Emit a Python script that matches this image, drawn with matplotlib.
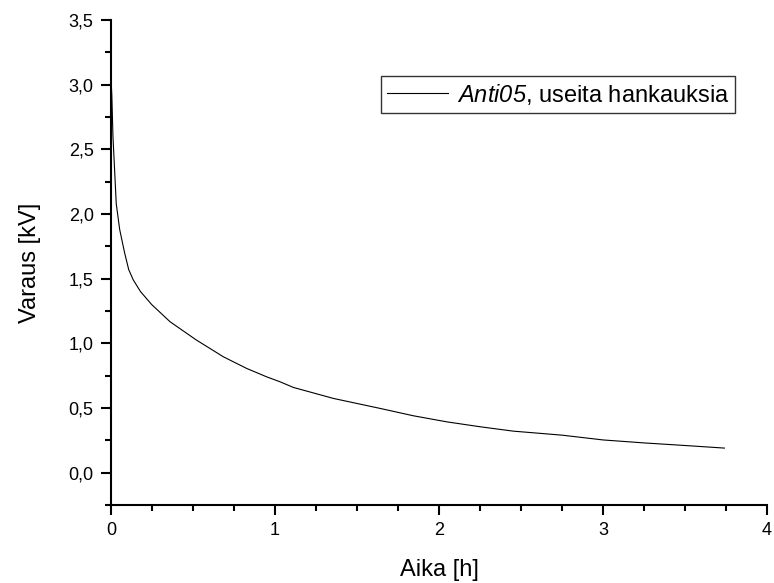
import matplotlib
matplotlib.use("Agg")
import matplotlib.pyplot as plt
from matplotlib.ticker import MultipleLocator, FuncFormatter

plt.rcParams['font.family'] = ['Liberation Sans', 'DejaVu Sans']
plt.rcParams['mathtext.fontset'] = 'custom'
plt.rcParams['mathtext.rm'] = 'Liberation Sans:italic'
plt.rcParams['mathtext.it'] = 'Liberation Sans:italic'
plt.rcParams['mathtext.bf'] = 'Liberation Sans:bold'

time_h = [0.0, 0.005, 0.012, 0.022, 0.032, 0.053, 0.083, 0.108, 0.136, 0.18,
          0.248, 0.36, 0.52, 0.685, 0.827, 0.949, 1.03, 1.112, 1.356, 1.64,
          1.843, 2.047, 2.25, 2.453, 2.75, 3.0, 3.25, 3.5, 3.74]
charge_kv = [3.05, 2.92, 2.6, 2.34, 2.08, 1.88, 1.70, 1.57, 1.49, 1.40,
             1.30, 1.167, 1.026, 0.896, 0.806, 0.741, 0.703, 0.659, 0.574, 0.497,
             0.44, 0.393, 0.355, 0.321, 0.29, 0.253, 0.23, 0.21, 0.19]
series_label = r"$\mathrm{Anti05}$, useita hankauksia"

fig = plt.figure(figsize=(7.74, 5.83), dpi=100)
ax = fig.add_axes([0.1434, 0.1338, 0.991 - 0.1434, 0.9657 - 0.1338])

ax.plot(time_h, charge_kv, color='black', linewidth=0.8,
        label=series_label)

ax.set_xlim(0, 4)
ax.set_ylim(-0.25, 3.5)
ax.xaxis.set_major_locator(MultipleLocator(1))
ax.xaxis.set_minor_locator(MultipleLocator(0.25))
ax.yaxis.set_major_locator(MultipleLocator(0.5))
ax.yaxis.set_minor_locator(MultipleLocator(0.25))
ax.yaxis.set_major_formatter(FuncFormatter(lambda v, p: f"{v:.1f}".replace('.', ',')))
ax.xaxis.set_major_formatter(FuncFormatter(lambda v, p: f"{int(round(v))}"))

for s in ['top', 'right']:
    ax.spines[s].set_visible(False)
for s in ['left', 'bottom']:
    ax.spines[s].set_linewidth(1.5)

ax.tick_params(which='major', direction='out', length=7.5, width=1.5,
               labelsize=13, pad=5)
ax.tick_params(which='minor', direction='out', length=4.5, width=1.5)

ax.set_xlabel("Aika [h]", fontsize=17, labelpad=14)
ax.set_ylabel("Varaus [kV]", fontsize=17, labelpad=20)

leg = ax.legend(loc='upper right', bbox_to_anchor=(0.951, 0.885),
                fontsize=17, frameon=True, fancybox=False,
                handlelength=2.6, handletextpad=0.35, borderpad=0.25,
                borderaxespad=0)
leg.get_frame().set_edgecolor('black')
leg.get_frame().set_linewidth(1.0)

fig.savefig("out.png", dpi=100)
